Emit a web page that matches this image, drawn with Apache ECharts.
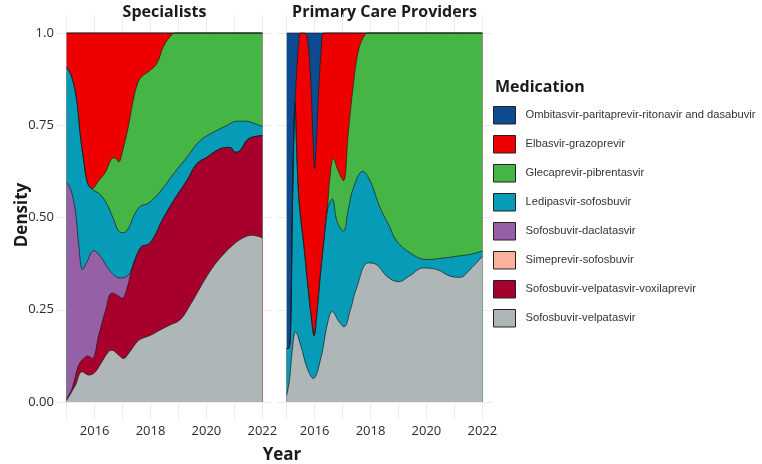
<!DOCTYPE html>
<html>
<head>
<meta charset="utf-8">
<title>Medication density by year</title>
<script src="https://cdn.jsdelivr.net/npm/echarts@6/dist/echarts.min.js"></script>
<style>
  html, body { margin: 0; padding: 0; background: #fff; }
  #chart { width: 762px; height: 464px; }
</style>
</head>
<body>
<div id="chart"></div>
<script>
// Medications, in legend order (top of the stack first)
const medications = [
  'Ombitasvir-paritaprevir-ritonavir and dasabuvir',
  'Elbasvir-grazoprevir',
  'Glecaprevir-pibrentasvir',
  'Ledipasvir-sofosbuvir',
  'Sofosbuvir-daclatasvir',
  'Simeprevir-sofosbuvir',
  'Sofosbuvir-velpatasvir-voxilaprevir',
  'Sofosbuvir-velpatasvir'
];
const medColors = ['#0d4a8f', '#ee0000', '#45b545', '#069cb8', '#9560a5', '#f9b29b', '#a8002c', '#aeb6b7'];

const panels = ['Specialists', 'Primary Care Providers'];
const xTickYears = [2015, 2016, 2017, 2018, 2019, 2020, 2021, 2022];
const xLabelYears = [2016, 2018, 2020, 2022];
const yTicks = [0, 0.25, 0.5, 0.75, 1];

// Upper edge of each stacked layer, [year, cumulative density]
// --- Specialists ---
const specNavyTop = [[2015, 1], [2022, 1]];
const specRedTop = [[2015, 1], [2022, 1]];
const specGreenTop = [[2015, 0.908], [2015.18, 0.881], [2015.36, 0.817], [2015.48, 0.727], [2015.61, 0.654],
  [2015.74, 0.595], [2015.9, 0.578], [2016.15, 0.6], [2016.38, 0.622], [2016.6, 0.658], [2016.72, 0.662],
  [2016.86, 0.651], [2017.0, 0.68], [2017.2, 0.745], [2017.38, 0.817], [2017.55, 0.866], [2017.7, 0.883],
  [2017.92, 0.895], [2018.22, 0.917], [2018.46, 0.963], [2018.7, 0.99], [2018.9, 1], [2019.3, 1], [2020, 1], [2022, 1]];
const specTealTop = [[2015, 0.908], [2015.18, 0.881], [2015.36, 0.817], [2015.48, 0.727], [2015.61, 0.654],
  [2015.74, 0.595], [2015.9, 0.578], [2016.2, 0.562], [2016.44, 0.536], [2016.68, 0.495], [2016.86, 0.463],
  [2017.04, 0.459], [2017.22, 0.472], [2017.4, 0.504], [2017.64, 0.531], [2017.86, 0.536], [2018.1, 0.55],
  [2018.46, 0.581], [2018.82, 0.618], [2019.3, 0.663], [2019.77, 0.708], [2020.25, 0.731], [2020.73, 0.749],
  [2021.08, 0.761], [2021.44, 0.761], [2021.74, 0.754], [2022, 0.747]];
const specPurpleTop = [[2015, 0.595], [2015.15, 0.575], [2015.31, 0.518], [2015.43, 0.427], [2015.57, 0.359],
  [2015.73, 0.381], [2015.97, 0.41], [2016.2, 0.395], [2016.56, 0.354], [2016.92, 0.336], [2017.22, 0.345],
  [2017.4, 0.375], [2017.52, 0.4], [2017.69, 0.422], [2017.92, 0.427], [2018.15, 0.45], [2018.4, 0.49],
  [2018.82, 0.545], [2019.3, 0.6], [2019.65, 0.645], [2020.01, 0.663], [2020.49, 0.686], [2020.85, 0.69],
  [2021.02, 0.677], [2021.2, 0.681], [2021.5, 0.713], [2022, 0.722]];
const specSalmonTop = []; // no visible share
const specDarkRedTop = [[2015, 0.009], [2015.19, 0.036], [2015.43, 0.1], [2015.61, 0.118], [2015.75, 0.125],
  [2015.91, 0.118], [2016.15, 0.182], [2016.38, 0.245], [2016.62, 0.295], [2016.8, 0.29], [2016.98, 0.281],
  [2017.16, 0.309], [2017.34, 0.363], [2017.52, 0.4], [2017.69, 0.422], [2017.92, 0.427], [2018.15, 0.45],
  [2018.4, 0.49], [2018.82, 0.545], [2019.3, 0.6], [2019.65, 0.645], [2020.01, 0.663], [2020.49, 0.686],
  [2020.85, 0.69], [2021.02, 0.677], [2021.2, 0.681], [2021.5, 0.713], [2022, 0.722]];
const specGrayTop = [[2015, 0.005], [2015.31, 0.045], [2015.55, 0.082], [2015.79, 0.073], [2016.03, 0.082],
  [2016.26, 0.109], [2016.5, 0.136], [2016.62, 0.14], [2016.86, 0.127], [2017.04, 0.118], [2017.22, 0.132],
  [2017.52, 0.163], [2017.69, 0.172], [2017.98, 0.18], [2018.34, 0.195], [2018.7, 0.209], [2019.06, 0.223],
  [2019.42, 0.263], [2019.77, 0.309], [2020.13, 0.354], [2020.49, 0.39], [2020.97, 0.427], [2021.32, 0.445],
  [2021.62, 0.452], [2022, 0.445]];

// --- Primary Care Providers ---
const pcpNavyTop = [[2015, 1], [2022, 1]];
const pcpRedTop = [[2015, 0.145], [2015.08, 0.146], [2015.14, 0.2], [2015.2, 0.5], [2015.26, 0.74], [2015.3, 0.81],
  [2015.36, 0.9], [2015.43, 0.97], [2015.5, 1], [2015.64, 1], [2015.74, 0.985], [2015.85, 0.88], [2015.95, 0.7],
  [2016.0, 0.632], [2016.06, 0.7], [2016.15, 0.85], [2016.24, 0.96], [2016.32, 1], [2016.5, 1], [2017, 1], [2022, 1]];
const pcpGreenTop = [[2015, 0.145], [2015.08, 0.146], [2015.14, 0.2], [2015.2, 0.5], [2015.26, 0.74], [2015.3, 0.81],
  [2015.35, 0.7], [2015.42, 0.57], [2015.5, 0.5], [2015.62, 0.42], [2015.75, 0.32], [2015.88, 0.23], [2015.98, 0.18],
  [2016.08, 0.24], [2016.2, 0.34], [2016.32, 0.43], [2016.45, 0.518], [2016.55, 0.61], [2016.67, 0.66],
  [2016.85, 0.625], [2017.03, 0.6], [2017.2, 0.727], [2017.39, 0.863], [2017.57, 0.953], [2017.8, 0.995],
  [2018, 1], [2019, 1], [2022, 1]];
const pcpTealTop = [[2015, 0.145], [2015.08, 0.146], [2015.14, 0.2], [2015.2, 0.5], [2015.26, 0.74], [2015.3, 0.81],
  [2015.35, 0.7], [2015.42, 0.57], [2015.5, 0.5], [2015.62, 0.42], [2015.75, 0.32], [2015.88, 0.23], [2015.98, 0.18],
  [2016.08, 0.24], [2016.2, 0.34], [2016.32, 0.43], [2016.45, 0.518], [2016.63, 0.55], [2016.8, 0.49],
  [2017.03, 0.463], [2017.2, 0.52], [2017.39, 0.581], [2017.72, 0.625], [2017.98, 0.6], [2018.34, 0.527],
  [2018.65, 0.48], [2018.94, 0.436], [2019.42, 0.404], [2020, 0.386], [2020.6, 0.39], [2021.08, 0.395],
  [2021.56, 0.4], [2022, 0.409]];
const pcpPurpleTop = [];   // no visible share
const pcpSalmonTop = [];
const pcpDarkRedTop = [];
const pcpGrayTop = [[2015, 0.018], [2015.1, 0.06], [2015.2, 0.14], [2015.32, 0.19], [2015.5, 0.154], [2015.74, 0.09],
  [2015.95, 0.064], [2016.22, 0.118], [2016.45, 0.209], [2016.63, 0.245], [2016.87, 0.218], [2017.05, 0.204],
  [2017.28, 0.25], [2017.5, 0.309], [2017.92, 0.377], [2018.22, 0.372], [2018.58, 0.341], [2019, 0.326],
  [2019.42, 0.343], [2019.89, 0.363], [2020.37, 0.359], [2020.85, 0.341], [2021.2, 0.338], [2021.56, 0.359],
  [2022, 0.395]];

const layerTops = [
  [specNavyTop, specRedTop, specGreenTop, specTealTop, specPurpleTop, specSalmonTop, specDarkRedTop, specGrayTop],
  [pcpNavyTop, pcpRedTop, pcpGreenTop, pcpTealTop, pcpPurpleTop, pcpSalmonTop, pcpDarkRedTop, pcpGrayTop]
];

const chart = echarts.init(document.getElementById('chart'));

const labelFont = 'Open Sans';
const gridLefts = [56.9, 276.9];

const grids = gridLefts.map(left => ({ left, top: 14.55, width: 215.2, height: 405.9 }));

const xAxes = gridLefts.map((_, i) => ({
  type: 'value',
  gridIndex: i,
  min: 2014.65,
  max: 2022.35,
  axisLine: { show: false },
  axisTick: { show: false, customValues: xTickYears },
  axisLabel: {
    customValues: xLabelYears,
    formatter: v => String(v),
    fontFamily: labelFont,
    fontSize: 13,
    color: '#2b2b2b',
    margin: 4
  },
  splitLine: { show: true, lineStyle: { color: '#ececec', width: 1 } }
}));

const yAxes = gridLefts.map((_, i) => ({
  type: 'value',
  gridIndex: i,
  min: -0.05,
  max: 1.05,
  axisLine: { show: false },
  axisTick: { show: false, customValues: yTicks },
  axisLabel: {
    show: i === 0,
    customValues: yTicks,
    formatter: v => (v === 1 ? '1.0' : v.toFixed(2)),
    fontFamily: labelFont,
    fontSize: 13,
    color: '#2b2b2b',
    margin: 3
  },
  splitLine: { show: true, lineStyle: { color: '#ececec', width: 1 } }
}));

// Each layer is drawn as an area from 0 up to its cumulative top; lower layers are painted over upper ones
const series = [];
layerTops.forEach((tops, p) => {
  tops.forEach((data, k) => {
    series.push({
      name: medications[k],
      type: 'line',
      xAxisIndex: p,
      yAxisIndex: p,
      data,
      smooth: 0.4,
      symbol: 'none',
      silent: true,
      emphasis: { disabled: true },
      itemStyle: { color: medColors[k] },
      lineStyle: { color: '#1a1a1a', width: 0.7 },
      areaStyle: { color: medColors[k], opacity: 1, origin: 0 }
    });
  });
});

const option = {
  backgroundColor: '#fff',
  animation: false,
  grid: grids,
  xAxis: xAxes,
  yAxis: yAxes,
  legend: {
    orient: 'vertical',
    left: 493,
    top: 106,
    padding: 0,
    icon: 'rect',
    itemWidth: 22,
    itemHeight: 17.5,
    itemGap: 10.5,
    selectedMode: false,
    data: medications.map((name, k) => ({
      name,
      itemStyle: { color: medColors[k], borderColor: '#222', borderWidth: 1 }
    })),
    textStyle: { fontFamily: 'Liberation Sans', fontSize: 11.2, color: '#333', padding: [0, 0, 0, 5] }
  },
  graphic: [
    { type: 'text', x: 164.5, y: 12, style: { text: panels[0], font: 'bold 16px "Open Sans"', fill: '#1a1a1a', align: 'center', verticalAlign: 'middle' } },
    { type: 'text', x: 384.5, y: 12, style: { text: panels[1], font: 'bold 16px "Open Sans"', fill: '#1a1a1a', align: 'center', verticalAlign: 'middle' } },
    { type: 'text', x: 22, y: 215, rotation: Math.PI / 2, style: { text: 'Density', font: 'bold 17px "Open Sans"', fill: '#1a1a1a', align: 'center', verticalAlign: 'middle' } },
    { type: 'text', x: 282, y: 455, style: { text: 'Year', font: 'bold 17px "Open Sans"', fill: '#1a1a1a', align: 'center', verticalAlign: 'middle' } },
    { type: 'text', x: 495, y: 87, style: { text: 'Medication', font: 'bold 16px "Open Sans"', fill: '#1a1a1a', align: 'left', verticalAlign: 'middle' } }
  ],
  series
};

chart.setOption(option);
</script>
</body>
</html>
